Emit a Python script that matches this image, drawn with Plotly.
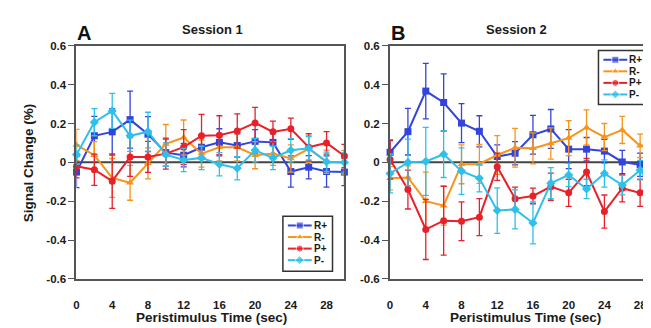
import plotly.graph_objects as go

times = [0, 2, 4, 6, 8, 10, 12, 14, 16, 18, 20, 22, 24, 26, 28, 30]
series_names = ["R+", "R-", "P+", "P-"]
x_ticks = [0, 4, 8, 12, 16, 20, 24, 28]
y_ticks = [-0.6, -0.4, -0.2, 0, 0.2, 0.4, 0.6]
y_tick_text = ["-0.6", "-0.4", "-0.2", "0", "0.2", "0.4", "0.6"]

# Session 1 (panel A)
s1_rp = [-0.05, 0.137, 0.157, 0.22, 0.145, 0.05, 0.037, 0.078, 0.103, 0.087, 0.108, 0.103, -0.047, -0.025, -0.047, -0.05]
s1_rp_err = [0.08, 0.1, 0.12, 0.147, 0.09, 0.07, 0.06, 0.06, 0.07, 0.06, 0.06, 0.06, 0.08, 0.06, 0.08, 0.07]
s1_rm = [0.09, 0.037, -0.08, -0.105, -0.005, 0.095, 0.128, 0.045, 0.078, 0.078, 0.037, 0.045, 0.02, 0.07, 0.003, 0.0]
s1_rm_err = [0.08, 0.07, 0.1, 0.09, 0.08, 0.1, 0.09, 0.07, 0.07, 0.07, 0.07, 0.06, 0.07, 0.07, 0.06, 0.06]
s1_pp = [-0.02, -0.038, -0.097, 0.028, 0.028, 0.045, 0.078, 0.137, 0.14, 0.162, 0.203, 0.157, 0.173, 0.078, 0.1, 0.033]
s1_pp_err = [0.06, 0.08, 0.14, 0.1, 0.08, 0.08, 0.09, 0.11, 0.1, 0.088, 0.08, 0.055, 0.055, 0.07, 0.058, 0.06]
s1_pm = [0.04, 0.207, 0.265, 0.137, 0.158, 0.04, 0.012, 0.023, -0.01, -0.03, 0.062, 0.023, 0.062, 0.073, 0.003, 0.0]
s1_pm_err = [0.05, 0.07, 0.09, 0.08, 0.1, 0.06, 0.06, 0.06, 0.06, 0.06, 0.06, 0.06, 0.06, 0.06, 0.05, 0.05]

# Session 2 (panel B)
s2_rp = [0.052, 0.158, 0.367, 0.308, 0.202, 0.16, 0.03, 0.047, 0.142, 0.172, 0.068, 0.068, 0.058, 0.002, -0.012, -0.017]
s2_rp_err = [0.06, 0.12, 0.143, 0.147, 0.1, 0.08, 0.06, 0.06, 0.1, 0.1, 0.1, 0.06, 0.06, 0.06, 0.06, 0.06]
s2_rm = [-0.082, -0.078, -0.2, -0.223, -0.01, -0.008, 0.038, 0.075, 0.072, 0.097, 0.125, 0.18, 0.13, 0.167, 0.085, 0.105]
s2_rm_err = [0.06, 0.06, 0.15, 0.1, 0.1, 0.1, 0.1, 0.1, 0.08, 0.08, 0.09, 0.09, 0.07, 0.07, 0.06, 0.06]
s2_pp = [0.015, -0.14, -0.345, -0.3, -0.303, -0.282, -0.023, -0.187, -0.173, -0.125, -0.157, -0.05, -0.253, -0.133, -0.157, -0.09]
s2_pp_err = [0.1, 0.1, 0.155, 0.177, 0.1, 0.095, 0.07, 0.06, 0.04, 0.07, 0.07, 0.07, 0.085, 0.07, 0.07, 0.05]
s2_pm = [-0.057, 0.0, 0.005, 0.042, -0.045, -0.082, -0.248, -0.242, -0.312, -0.107, -0.065, -0.137, -0.057, -0.117, -0.04, -0.173]
s2_pm_err = [0.1, 0.12, 0.175, 0.12, 0.12, 0.07, 0.117, 0.1, 0.108, 0.08, 0.06, 0.05, 0.07, 0.05, 0.05, 0.05]

colors = ["#3344dd", "#f7941d", "#e8202a", "#2ec0ea"]
symbols = ["square", "triangle-up", "circle", "diamond"]

W, H = 651, 328
FONT = "Arial, Liberation Sans, sans-serif"
TXT = "#1a1a1a"

fig = go.Figure()

panels = [
    ([s1_rp, s1_rm, s1_pp, s1_pm], [s1_rp_err, s1_rm_err, s1_pp_err, s1_pm_err], "x", "y"),
    ([s2_rp, s2_rm, s2_pp, s2_pm], [s2_rp_err, s2_rm_err, s2_pp_err, s2_pm_err], "x2", "y2"),
]
for vals, errs, xa, ya in panels:
    for i in range(4):
        fig.add_trace(go.Scatter(
            x=times, y=vals[i], name=series_names[i], mode="lines+markers",
            xaxis=xa, yaxis=ya, showlegend=False, cliponaxis=False,
            line=dict(color=colors[i], width=2),
            marker=dict(symbol=symbols[i], size=7, color=colors[i]),
            error_y=dict(type="data", array=errs[i], color=colors[i], thickness=1.3, width=3),
        ))

# Hand-drawn compact legends (pixel overlay axis)
legend_boxes = [  # (left, top, right, bottom, first_row_y, row_step)
    (274, 210, 324, 267, 219.5, 12.0),
    (592, 38, 643, 94, 47.5, 12.0),
]
for (lx0, ly0, lx1, ly1, ry, step) in legend_boxes:
    fig.add_shape(type="rect", xref="paper", yref="paper",
                  x0=lx0 / W, x1=lx1 / W, y0=1 - ly1 / H, y1=1 - ly0 / H,
                  line=dict(color="#333333", width=1.5), fillcolor="rgba(0,0,0,0)", layer="above")
    for i in range(4):
        yy = ry + i * step
        fig.add_trace(go.Scatter(
            x=[lx0 + 5, lx0 + 17, lx0 + 29], y=[yy, yy, yy], mode="lines+markers",
            xaxis="x3", yaxis="y3", showlegend=False, hoverinfo="skip", cliponaxis=False,
            line=dict(color=colors[i], width=2),
            marker=dict(symbol=symbols[i], size=[0, 7, 0], color=colors[i]),
        ))
        fig.add_annotation(xref="x3", yref="y3", x=lx0 + 30, y=yy, text=series_names[i],
                           showarrow=False, xanchor="left", yanchor="middle", borderpad=0,
                           font=dict(family=FONT, size=10, color=TXT, weight="bold"))

yd = [1 - 275 / H, 1 - 33 / H]
axis_common = dict(showgrid=False, zeroline=False, showline=True, mirror=True,
                   linecolor="#555555", linewidth=2,
                   tickfont=dict(family=FONT, size=11.5, color=TXT, weight="bold"))
fig.update_layout(
    width=W, height=H, margin=dict(l=0, r=0, t=0, b=0),
    plot_bgcolor="rgba(0,0,0,0)", paper_bgcolor="white",
    font=dict(family=FONT, size=11, color=TXT),
    showlegend=False,
    xaxis=dict(domain=[66 / W, 336 / W], range=[0, 30], tickvals=x_ticks, ticks="",
               ticklabelstandoff=14, anchor="y", **axis_common),
    yaxis=dict(domain=yd, range=[-0.6, 0.6], tickvals=y_ticks, ticktext=y_tick_text,
               ticks="outside", ticklen=6, tickcolor="#555555", anchor="x", **axis_common),
    xaxis2=dict(domain=[382 / W, 1.0], range=[0, 269 / 9], tickvals=x_ticks, ticks="",
                ticklabelstandoff=14, anchor="y2", **axis_common),
    yaxis2=dict(domain=yd, range=[-0.6, 0.6], tickvals=y_ticks, ticktext=y_tick_text,
                ticks="outside", ticklen=6, tickcolor="#555555", anchor="x2", **axis_common),
    xaxis3=dict(domain=[0, 1], range=[0, W], visible=False, fixedrange=True, anchor="y3"),
    yaxis3=dict(domain=[0, 1], range=[H, 0], visible=False, fixedrange=True, anchor="x3"),
)

# zero lines
for xr, yr in [("x", "y"), ("x2", "y2")]:
    fig.add_shape(type="line", xref=xr + " domain", yref=yr, x0=0, x1=1, y0=0, y1=0,
                  line=dict(color="#444444", width=2), layer="below")

title_font = dict(family=FONT, size=13, color=TXT, weight="bold")
axis_title_font = dict(family=FONT, size=13.5, color=TXT, weight="bold")
letter_font = dict(family=FONT, size=20, color="#111111", weight="bold")
annotations = [
    dict(text="A", x=74 / W, y=1 - 20 / H, font=letter_font),
    dict(text="B", x=390 / W, y=1 - 20 / H, font=letter_font),
    dict(text="Session 1", x=203 / W, y=1 - 16 / H, font=title_font),
    dict(text="Session 2", x=509 / W, y=1 - 16 / H, font=title_font),
    dict(text="Peristimulus Time (sec)", x=202 / W, y=1 - 315 / H, font=axis_title_font),
    dict(text="Peristimulus Time (sec)", x=518 / W, y=1 - 315 / H, font=axis_title_font),
    dict(text="Signal Change (%)", x=17 / W, y=1 - 154 / H, textangle=-90, font=axis_title_font),
]
for a in annotations:
    fig.add_annotation(xref="paper", yref="paper", showarrow=False,
                       xanchor="center", yanchor="middle", **a)

fig.write_html("out.html")
